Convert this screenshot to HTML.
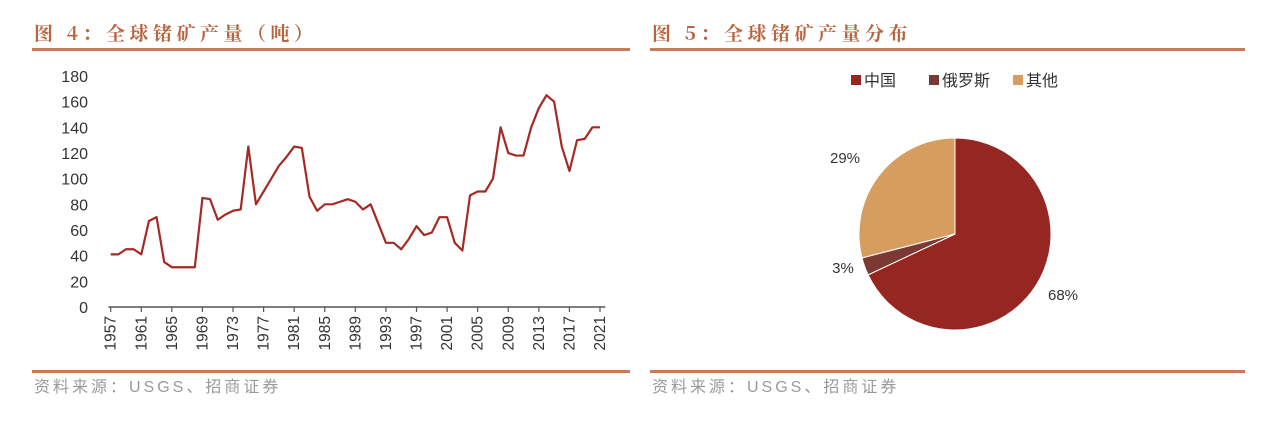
<!DOCTYPE html>
<html><head><meta charset="utf-8"><style>
body{margin:0;width:1269px;height:423px;background:#fff;overflow:hidden;font-family:"Liberation Sans","Noto Sans CJK SC",sans-serif;}
svg{position:absolute;left:0;top:0}
</style></head><body>
<svg width="1269" height="423">
<g>
<text x="34" y="40" font-size="19" font-weight="bold" fill="#b8643f" letter-spacing="4.5" font-family="'Noto Serif CJK SC','Noto Sans CJK SC',serif">图 4：全球锗矿产量（吨）</text>
<rect x="32" y="48" width="598" height="3" fill="#c97a5a"/>
<rect x="32" y="370" width="598" height="3" fill="#c97a5a"/>
<text x="34" y="392" font-size="16" fill="#9a9a9a" letter-spacing="3">资料来源：USGS、招商证券</text>
<g id="axes"></g>
</g>
<g>
<text x="652" y="40" font-size="19" font-weight="bold" fill="#b8643f" letter-spacing="4.5" font-family="'Noto Serif CJK SC','Noto Sans CJK SC',serif">图 5：全球锗矿产量分布</text>
<rect x="650" y="48" width="595" height="3" fill="#c97a5a"/>
<rect x="650" y="370" width="595" height="3" fill="#c97a5a"/>
<text x="652" y="392" font-size="16" fill="#9a9a9a" letter-spacing="3">资料来源：USGS、招商证券</text>
<g id="pie"></g>
<g id="legend"></g>
</g>
</svg>
<script>
const years=[];for(let y=1957;y<=2021;y++)years.push(y);
const production=[41,41,45,45,41,67,70,35,31,31,31,31,85,84,68,72,75,76,125,80,90,100,110,117,125,124,86,75,80,80,82,84,82,76,80,65,50,50,45,53,63,56,58,70,70,50,44,87,90,90,100,140,120,118,118,140,155,165,160,125,106,130,131,140,140];
const yTicks=[0,20,40,60,80,100,120,140,160,180];
const pieLabels=["中国","俄罗斯","其他"];
const pieValues=[68,3,29];
const pieColors=["#962622","#7a3a33","#d69d5e"];
const NS="http://www.w3.org/2000/svg";
function mk(t,a,p){const e=document.createElementNS(NS,t);for(const k in a)e.setAttribute(k,a[k]);p.appendChild(e);return e;}
const ax=document.getElementById('axes');
const x0=110.7,x1=600,yb=307,yt=76;
const xs=y=>x0+(y-1957)*(x1-x0)/(2021-1957);
const ys=v=>yb-v*(yb-yt)/180;
yTicks.forEach(v=>{const t=mk('text',{x:88,y:ys(v)+6,'text-anchor':'end','font-size':16,fill:'#333'},ax);t.textContent=v;

});
const base=mk('line',{x1:xs(1956.7),x2:xs(2021.7),y1:yb,y2:yb,stroke:'#555','stroke-width':1.5},ax);


years.forEach(y=>{if((y-1957)%4)return;const X=xs(y);
const tk=mk('line',{x1:X,x2:X,y1:yb,y2:yb+5,stroke:'#555','stroke-width':1.2},ax);


const t=mk('text',{x:0,y:0,'font-size':15.5,fill:'#333','text-anchor':'end',transform:`translate(${X+5},${yb+9}) rotate(-90)`},ax);t.textContent=y;

});
const line=mk('polyline',{points:production.map((v,i)=>xs(years[i])+','+ys(v)).join(' '),fill:'none',stroke:'#a52a25','stroke-width':2.2,'stroke-linejoin':'round'},ax);


const pg=document.getElementById('pie');const cx=955,cy=234,r=96;
const tot=pieValues.reduce((a,b)=>a+b,0);let a0=0;
const labPos=[[1063,300],[843,273],[845,163]];
pieValues.forEach((v,i)=>{const a1=a0+v/tot*2*Math.PI;
const p=(a)=>[cx+r*Math.sin(a),cy-r*Math.cos(a)];const s=p(a0),e=p(a1);
const sl=mk('path',{d:`M${cx},${cy}L${s[0]},${s[1]}A${r},${r} 0 ${a1-a0>Math.PI?1:0} 1 ${e[0]},${e[1]}Z`,fill:pieColors[i],stroke:'#fff','stroke-width':1},pg);


const t=mk('text',{x:labPos[i][0],y:labPos[i][1],'text-anchor':'middle','font-size':15,fill:'#333'},pg);t.textContent=v+'%';


a0=a1;});
const lg=document.getElementById('legend');const lx=[851,929,1013];
pieLabels.forEach((l,i)=>{const r2=mk('rect',{x:lx[i],y:75,width:10,height:10,fill:pieColors[i]},lg);


const t=mk('text',{x:lx[i]+13,y:86,'font-size':16,fill:'#333'},lg);t.textContent=l;

});
</script>
</body></html>
